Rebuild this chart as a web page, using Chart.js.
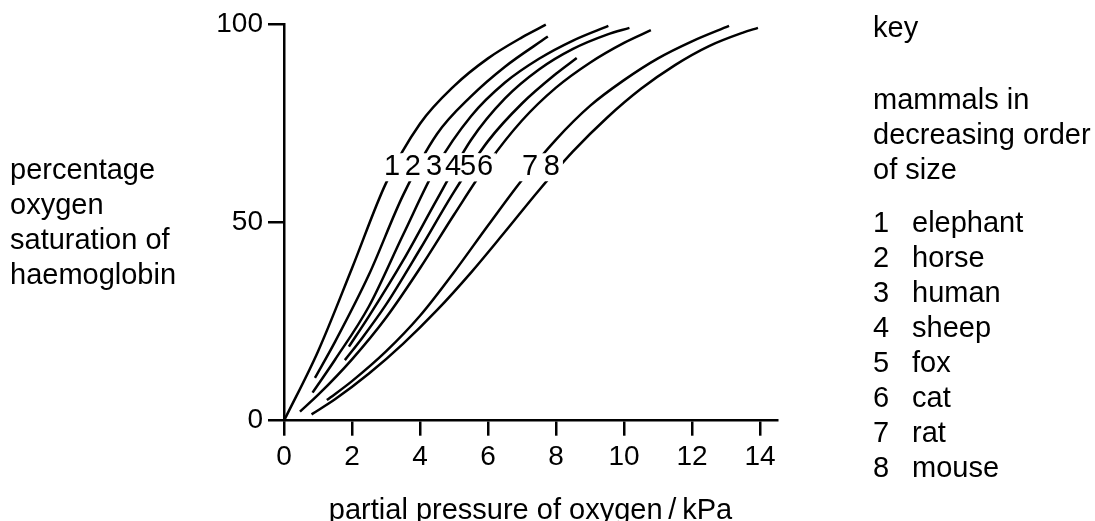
<!DOCTYPE html>
<html>
<head>
<meta charset="utf-8">
<title>Oxygen dissociation curves of mammals</title>
<script src="https://cdn.jsdelivr.net/npm/chart.js@4.4.1/dist/chart.umd.min.js"></script>
<style>
  html, body { margin: 0; padding: 0; background: #fff; }
  body {
    width: 1095px; height: 521px; position: relative; overflow: hidden;
    font-family: "Liberation Sans", Arial, sans-serif; font-size: 29px;
    line-height: 35px; color: #000;
  }
  #chart { position: absolute; left: 0; top: 0; }
  .txt { position: absolute; white-space: nowrap; }
  .row .num { display: inline-block; width: 39px; }
</style>
</head>
<body>
<canvas id="chart" width="1095" height="521"></canvas>

<div class="txt" style="left:10px; top:152px;">percentage<br>oxygen<br>saturation of<br>haemoglobin</div>

<div class="txt" style="left:873px; top:10px;">key</div>
<div class="txt" style="left:873px; top:82px;">mammals in<br>decreasing order<br>of size</div>
<div class="txt" id="keyList" style="left:873px; top:205px;"></div>

<script>
(function () {
  'use strict';

  // partial pressure (kPa), saturation (%)
  const elephant = [[0, 0], [1, 17.5], [2, 38.5], [3, 60], [4, 75], [5, 84.5], [6, 91.5], [7, 96.8], [7.7, 100]];
  const horse = [[0.91, 10.8], [1.5, 19.9], [2.5, 36.9], [3.5, 56.9], [4.5, 72.4], [5.5, 81.9], [6.5, 89.4], [7.76, 97]];
  const human = [[0.84, 7.1], [1.5, 15.4], [2.5, 28.9], [3.5, 46.9], [4.5, 64.4], [5.5, 76.9], [6.5, 85.4], [7.5, 91.4], [8.5, 96], [9.54, 99.7]];
  const sheep = [[1.91, 18.7], [2.5, 26.4], [3.5, 40.4], [4.5, 55.9], [5.5, 70.9], [6.5, 81.4], [7.5, 88.7], [8.5, 93.9], [9.5, 97.5], [10.16, 99.2]];
  const fox = [[1.79, 15.3], [2.3, 20.9], [3, 29.3], [4, 43.3], [5, 57.8], [6, 70.6], [7, 80.1], [8, 87.6], [8.61, 91.6]];
  const cat = [[0.47, 2.3], [1, 6.5], [2, 15.5], [3, 26], [4, 38.5], [5, 52], [6, 65], [7, 75.8], [8, 84.1], [9, 90.4], [10, 95.4], [10.79, 98.6]];
  const rat = [[1.26, 5.2], [2, 10], [3, 17.5], [4, 26.5], [5, 37.5], [6, 49.3], [7, 60.8], [8, 71], [9, 79.5], [10, 86], [11, 91.5], [12, 95.8], [13.09, 99.7]];
  const mouse = [[0.81, 1.6], [1.5, 5.4], [2.5, 11.9], [3.5, 19.4], [4.5, 27.9], [5.5, 37.4], [6.5, 47.7], [7.5, 58.2], [8.5, 68], [9.5, 76.5], [10.5, 83.8], [11.5, 89.8], [12.5, 94.6], [13.5, 98], [13.94, 99.2]];

  const animals = ['elephant', 'horse', 'human', 'sheep', 'fox', 'cat', 'rat', 'mouse'];
  const curves = [elephant, horse, human, sheep, fox, cat, rat, mouse];

  // where the curve numbers sit on the graph
  const labelX = [3.18, 3.79, 4.41, 4.97, 5.41, 5.91, 7.24, 7.88];
  const labelY = 64;

  const xTicks = [0, 2, 4, 6, 8, 10, 12, 14];
  const yTicks = [0, 50, 100];

  const FAMILY = '"Liberation Sans", Arial, sans-serif';
  const TICK_FONT = { family: FAMILY, size: 28 };
  const TEXT_FONT = { family: FAMILY, size: 29 };

  // key list
  const list = document.getElementById('keyList');
  animals.forEach((name, i) => {
    const row = document.createElement('div');
    row.className = 'row';
    row.innerHTML = '<span class="num">' + (i + 1) + '</span><span>' + name + '</span>';
    list.appendChild(row);
  });

  const curveNumbers = {
    id: 'curveNumbers',
    afterDatasetsDraw(chart) {
      const { ctx, scales: { x, y } } = chart;
      const py = y.getPixelForValue(labelY);
      ctx.save();
      ctx.fillStyle = '#fff';
      labelX.forEach((v) => {
        const px = x.getPixelForValue(v);
        ctx.fillRect(px - 11, py - 14, 22, 28);
      });
      ctx.fillStyle = '#000';
      ctx.font = TEXT_FONT.size + 'px ' + FAMILY;
      ctx.textAlign = 'center';
      ctx.textBaseline = 'middle';
      labelX.forEach((v, i) => {
        ctx.fillText(String(i + 1), x.getPixelForValue(v), py);
      });
      ctx.restore();
    }
  };

  new Chart(document.getElementById('chart').getContext('2d'), {
    type: 'line',
    data: {
      datasets: curves.map((pts, i) => ({
        label: animals[i],
        data: pts.map(([px, s]) => ({ x: px, y: s })),
        borderColor: '#000',
        borderWidth: 2.5,
        pointRadius: 0,
        fill: false,
        clip: false,
        cubicInterpolationMode: 'monotone'
      }))
    },
    options: {
      responsive: false,
      animation: false,
      events: [],
      layout: { padding: { left: 0, right: 318, top: 24.7, bottom: 0 } },
      plugins: { legend: { display: false }, tooltip: { enabled: false } },
      scales: {
        x: {
          type: 'linear',
          min: 0,
          max: 14.5,
          afterBuildTicks: (s) => { s.ticks = xTicks.map((v) => ({ value: v })); },
          afterFit: (s) => { s.height = 100.3; },
          grid: { drawOnChartArea: false, drawTicks: true, tickLength: 15, color: '#000', lineWidth: 2.5 },
          border: { color: '#000', width: 2.5 },
          ticks: { color: '#000', font: TICK_FONT, padding: 5, maxRotation: 0 },
          title: {
            display: true,
            text: 'partial pressure of oxygen\u2009/\u2009kPa',
            color: '#000',
            font: TEXT_FONT,
            padding: { top: 0, bottom: -7 }
          }
        },
        y: {
          type: 'linear',
          min: 0,
          max: 100,
          afterBuildTicks: (s) => { s.ticks = yTicks.map((v) => ({ value: v })); },
          afterFit: (s) => { s.width = 284; },
          grid: { drawOnChartArea: false, drawTicks: true, tickLength: 16, color: '#000', lineWidth: 2.5 },
          border: { color: '#000', width: 2.5 },
          ticks: { color: '#000', font: TICK_FONT, padding: 5 }
        }
      }
    },
    plugins: [curveNumbers]
  });
})();
</script>
</body>
</html>
